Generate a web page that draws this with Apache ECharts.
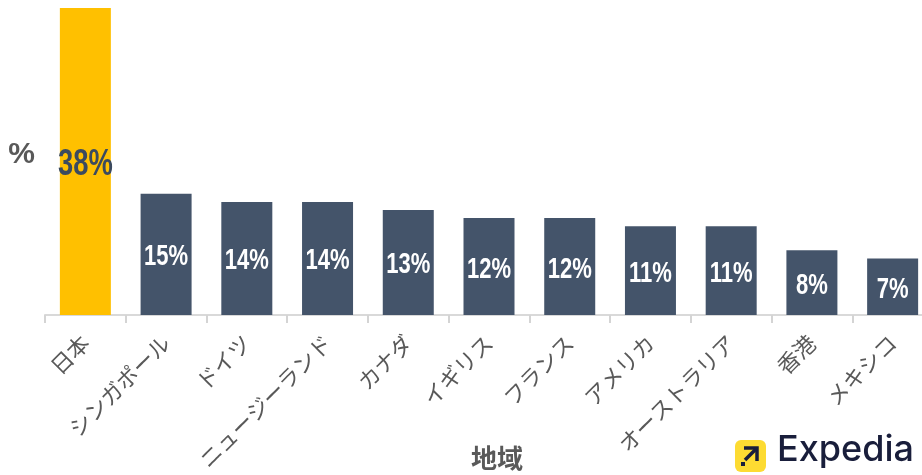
<!DOCTYPE html>
<html>
<head>
<meta charset="utf-8">
<script src="https://cdn.jsdelivr.net/npm/echarts@6/dist/echarts.min.js"></script>
<style>
  html, body { margin: 0; padding: 0; background: #fff; }
  #main { width: 922px; height: 475px; }
</style>
</head>
<body>
<div id="main"></div>
<script>
const regions = ['日本', 'シンガポール', 'ドイツ', 'ニュージーランド', 'カナダ', 'イギリス', 'フランス', 'アメリカ', 'オーストラリア', '香港', 'メキシコ']
const shares = [38, 15, 14, 14, 13, 12, 12, 11, 11, 8, 7]
const highlightIndex = 0

const grey = '#595959'
const barColor = '#44546a'
const hiColor = '#ffc000'
const jp = '"Noto Sans CJK JP", "Noto Sans", sans-serif'

const chart = echarts.init(document.getElementById('main'))

// value labels drawn squeezed, the original uses a narrow font
function renderLabel(params, api) {
    const i = params.dataIndex
    const v = api.value(1)
    const p = api.coord([i, v / 2])
    const hi = i === highlightIndex
    return {
        type: 'text',
        x: p[0],
        y: p[1] + (hi ? 4 : 3),
        scaleX: 0.76,
        style: {
            text: v + '%',
            fill: hi ? '#3b4a5f' : '#ffffff',
            font: 'bold ' + (hi ? 36 : 29) + 'px "Liberation Sans", Arial, sans-serif',
            align: 'center',
            verticalAlign: 'middle'
        }
    }
}

chart.setOption({
    animation: false,
    grid: { left: 45, right: -11, top: 8, bottom: 160, outerBoundsMode: 'none', containLabel: false },
    xAxis: {
        type: 'category',
        data: regions,
        name: '地域',
        nameLocation: 'middle',
        nameGap: 130,
        nameMoveOverlap: false,
        nameTextStyle: { color: grey, fontSize: 26, fontWeight: 'bold', fontFamily: jp, padding: [0, 0, 0, 16] },
        axisLine: { lineStyle: { color: '#d9d9d9', width: 2 } },
        axisTick: { show: true, length: 8, lineStyle: { color: '#d4d4d4', width: 2 } },
        axisLabel: { interval: 0, rotate: 45, margin: 24, color: grey, fontSize: 22, fontFamily: jp }
    },
    yAxis: {
        type: 'value',
        min: 0,
        max: 38,
        name: '%',
        nameLocation: 'middle',
        nameRotate: 0,
        nameGap: 10,
        nameMoveOverlap: false,
        nameTextStyle: { color: grey, fontSize: 30, fontWeight: 'bold', fontFamily: '"Liberation Sans", sans-serif', verticalAlign: 'bottom', lineHeight: 14 },
        axisLine: { show: false },
        axisTick: { show: false },
        axisLabel: { show: false },
        splitLine: { show: false }
    },
    series: [{
        type: 'bar',
        barWidth: 51,
        data: shares.map((v, i) => ({
            value: v,
            itemStyle: { color: i === highlightIndex ? hiColor : barColor }
        }))
    }, {
        type: 'custom',
        data: shares.map((v, i) => [i, v]),
        renderItem: renderLabel,
        z: 5
    }],
    graphic: [{
        type: 'group',
        left: 735,
        top: 440,
        children: [
            { type: 'rect', shape: { x: 0, y: 0, width: 31, height: 32, r: 6 }, style: { fill: '#fddb32' } },
            { type: 'polyline', shape: { points: [[9, 8], [22, 8], [22, 21]] }, style: { stroke: '#191e3b', lineWidth: 3.5, fill: null } },
            { type: 'line', shape: { x1: 21, y1: 9, x2: 10, y2: 20 }, style: { stroke: '#191e3b', lineWidth: 3.5 } },
            { type: 'rect', shape: { x: 6, y: 22, width: 4, height: 4 }, style: { fill: '#191e3b' } }
        ]
    }, {
        type: 'text',
        left: 777,
        top: 432,
        style: { text: 'Expedia', fill: '#191e3b', font: '500 36px Inter, Roboto, sans-serif' }
    }]
})
</script>
</body>
</html>
